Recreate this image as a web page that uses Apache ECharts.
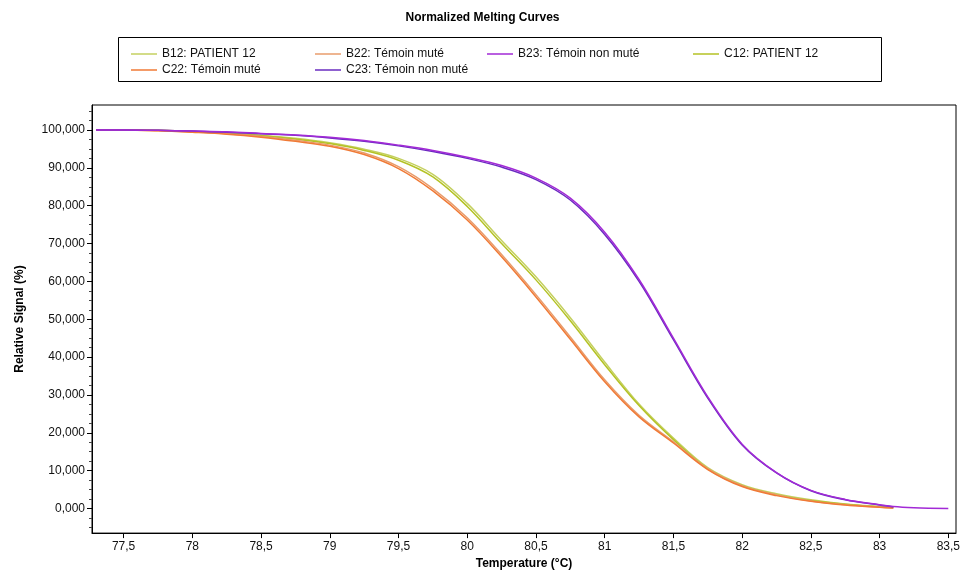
<!DOCTYPE html>
<html>
<head>
<meta charset="utf-8">
<script src="https://cdn.jsdelivr.net/npm/echarts@6/dist/echarts.min.js"></script>
<style>
  html, body { margin: 0; padding: 0; background: #fff; }
  #chart { width: 965px; height: 575px; }
</style>
</head>
<body>
<div id="chart"></div>
<script>
// temperatures (°C)
var temps = [77.3, 77.5, 77.75, 78, 78.25, 78.5, 78.75, 79, 79.25, 79.5, 79.75, 80, 80.25, 80.5,
  80.75, 81, 81.25, 81.5, 81.75, 82, 82.25, 82.5, 82.75, 83, 83.1]
var tempsLong = temps.concat([83.25, 83.5])

var b12 = [100, 100, 99.9, 99.6, 99.2, 98.6, 97.8, 96.6, 94.9, 92.5, 88.3, 80.6, 70.8, 61.2,
  50.4, 38.7, 27.6, 18.6, 10.8, 6.3, 3.9, 2.3, 1.2, 0.5, 0.3]
var c12 = [100, 100, 99.9, 99.6, 99.1, 98.5, 97.6, 96.4, 94.6, 92.0, 87.6, 79.8, 70.0, 60.4,
  49.6, 38.0, 27.2, 18.2, 10.5, 6.0, 3.6, 2.1, 1.1, 0.4, 0.2]
var b22 = [100, 100, 99.8, 99.5, 99.0, 98.3, 97.3, 96.0, 93.9, 90.3, 84.5, 76.8, 67.1, 56.5,
  45.3, 34.0, 24.6, 17.6, 10.5, 6.0, 3.6, 2.0, 1.0, 0.4, 0.2]
var c22 = [100, 100, 99.8, 99.4, 98.9, 98.1, 97.0, 95.7, 93.5, 89.8, 83.9, 76.2, 66.5, 55.9,
  44.7, 33.5, 24.2, 17.3, 10.3, 5.8, 3.4, 1.9, 0.9, 0.3, 0.1]
var b23 = [100, 100, 99.9, 99.7, 99.5, 99.1, 98.7, 98.1, 97.2, 96.0, 94.6, 92.8, 90.6, 87.3,
  82.0, 73.0, 60.5, 45.0, 29.5, 17.0, 9.5, 4.8, 2.4, 1.0, 0.5, 0.2, 0.0]
var c23 = [100, 100, 99.9, 99.7, 99.4, 99.0, 98.6, 97.9, 97.0, 95.8, 94.3, 92.5, 90.2, 86.9,
  81.5, 72.4, 60.0, 44.6, 29.2, 16.8, 9.4, 4.7, 2.3, 0.9, 0.4]

var names = ['B12: PATIENT 12', 'B22: Témoin muté', 'B23: Témoin non muté',
  'C12: PATIENT 12', 'C22: Témoin muté', 'C23: Témoin non muté']
var colors = ['#c4d060', '#e89c6c', '#a22ad6', '#b4c224', '#f07a36', '#6a2cc0']

// tick labels
var xTicks = [77.5, 78, 78.5, 79, 79.5, 80, 80.5, 81, 81.5, 82, 82.5, 83, 83.5]
var yTicks = [0, 10, 20, 30, 40, 50, 60, 70, 80, 90, 100]
var yMinorTicks = [-5, -2.5, 2.5, 5, 7.5, 12.5, 15, 17.5, 22.5, 25, 27.5, 32.5, 35, 37.5, 42.5, 45,
  47.5, 52.5, 55, 57.5, 62.5, 65, 67.5, 72.5, 75, 77.5, 82.5, 85, 87.5, 92.5, 95, 97.5, 102.5, 105]

function pairs (xs, ys) {
  return ys.map(function (v, i) { return [xs[i], v] })
}

var seriesData = [
  pairs(temps, b12), pairs(temps, b22), pairs(tempsLong, b23),
  pairs(temps, c12), pairs(temps, c22), pairs(temps, c23)
]

// draw order: yellow, orange, then purple on top
var order = [0, 3, 1, 4, 5, 2]
var series = order.map(function (i) {
  return {
    name: names[i],
    type: 'line',
    smooth: 0.35,
    symbol: 'none',
    animation: false,
    lineStyle: { width: 1.5, color: colors[i] },
    itemStyle: { color: colors[i] },
    data: seriesData[i]
  }
})

// legend laid out as a small table, one legend per entry
var legendPos = [[126, 43], [310, 43], [482, 43], [688, 43], [126, 59], [310, 59]]
var legends = names.map(function (n, i) {
  return {
    data: [n],
    left: legendPos[i][0],
    top: legendPos[i][1],
    icon: 'rect',
    itemWidth: 26,
    itemHeight: 1.5,
    itemGap: 5,
    selectedMode: false,
    textStyle: { fontFamily: 'Liberation Sans', fontSize: 12, color: '#111', padding: [0, 0, 0, 0] }
  }
})

var font = 'Liberation Sans'
var chart = echarts.init(document.getElementById('chart'))
chart.setOption({
  backgroundColor: '#fff',
  animation: false,
  title: {
    text: 'Normalized Melting Curves',
    left: 'center',
    top: 7,
    textStyle: { fontFamily: font, fontSize: 12, fontWeight: 'bold', color: '#000' }
  },
  legend: legends,
  graphic: [{
    type: 'rect',
    shape: { x: 118.5, y: 37.5, width: 763, height: 44 },
    style: { fill: 'none', stroke: '#000', lineWidth: 1 },
    silent: true
  }],
  grid: {
    left: 92, top: 105, right: 9, bottom: 41,
    show: true, borderColor: '#000', borderWidth: 1
  },
  xAxis: {
    type: 'value',
    min: 77.27,
    max: 83.556,
    name: 'Temperature (°C)',
    nameLocation: 'middle',
    nameGap: 24,
    nameTextStyle: { fontFamily: font, fontSize: 12, fontWeight: 'bold', color: '#000' },
    axisLine: { show: true, onZero: false, lineStyle: { color: '#000', width: 1 } },
    axisTick: { show: true, length: 5, customValues: xTicks, lineStyle: { color: '#000' } },
    axisLabel: {
      customValues: xTicks,
      margin: 8,
      fontFamily: font, fontSize: 12, color: '#111',
      formatter: function (v) { return String(v).replace('.', ',') }
    },
    splitLine: { show: false }
  },
  yAxis: [{
    type: 'value',
    min: -6.5,
    max: 106.6,
    name: 'Relative Signal (%)',
    nameLocation: 'middle',
    nameGap: 66,
    nameTextStyle: { fontFamily: font, fontSize: 12, fontWeight: 'bold', color: '#000' },
    axisLine: { show: true, onZero: false, lineStyle: { color: '#000', width: 1 } },
    axisTick: { show: true, length: 5, customValues: yTicks, lineStyle: { color: '#000' } },
    axisLabel: {
      customValues: yTicks,
      margin: 7,
      fontFamily: font, fontSize: 12, color: '#111',
      formatter: function (v) { return v.toFixed(3).replace('.', ',') }
    },
    splitLine: { show: false }
  }, {
    // minor ticks only
    type: 'value',
    position: 'left',
    min: -6.5,
    max: 106.6,
    axisLine: { show: false },
    axisTick: { show: true, length: 3, customValues: yMinorTicks, lineStyle: { color: '#444' } },
    axisLabel: { show: false },
    splitLine: { show: false }
  }],
  series: series
})
</script>
</body>
</html>
